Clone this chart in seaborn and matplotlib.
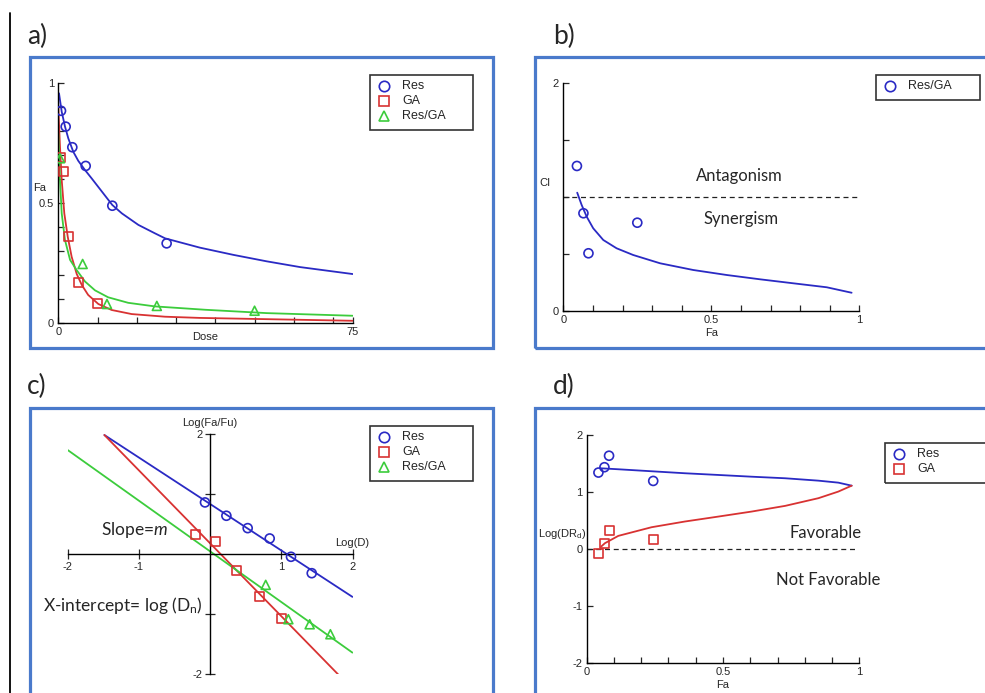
import numpy as np
import seaborn as sns
import matplotlib.pyplot as plt
from matplotlib.lines import Line2D
from matplotlib.patches import Rectangle
from matplotlib.ticker import MultipleLocator

# ---- a) dose-effect curves
res_dose = [0.69, 1.88, 3.57, 6.98, 13.76, 27.6]
res_fa = [0.884, 0.818, 0.732, 0.654, 0.488, 0.331]
ga_dose = [0.65, 1.45, 2.55, 5.1, 10.0]
ga_fa = [0.6875, 0.629, 0.361, 0.167, 0.08]
combo_dose = [0.43, 6.2, 12.4, 25.1, 50.0]
combo_fa = [0.686, 0.245, 0.078, 0.07, 0.05]

res_fit_dose = [0.18, 0.87, 1.71, 2.55, 3.82, 5.1, 6.8, 8.5, 11.06, 13.76, 16.2, 20.4,
                24.6, 27.2, 36.1, 44.6, 53.1, 61.6, 75.0]
res_fit_fa = [0.957, 0.88, 0.818, 0.769, 0.713, 0.675, 0.637, 0.602, 0.548, 0.491, 0.456, 0.408,
              0.373, 0.352, 0.313, 0.283, 0.256, 0.232, 0.203]
ga_fit_dose = [0.0, 0.43, 0.87, 1.53, 2.4, 3.4, 4.7, 6.0, 7.6, 10.2, 13.6, 18.7, 27.2, 36.0, 75.0]
ga_fit_fa = [0.90, 0.734, 0.595, 0.456, 0.359, 0.275, 0.203, 0.157, 0.116, 0.078, 0.053, 0.036,
             0.025, 0.02, 0.008]
combo_fit_dose = [0.0, 0.43, 0.87, 1.7, 3.0, 4.7, 6.8, 9.35, 12.7, 17.8, 24.6, 37.4, 53.1, 75.0]
combo_fit_fa = [0.79, 0.595, 0.456, 0.345, 0.262, 0.219, 0.172, 0.135, 0.106, 0.083, 0.068,
                0.054, 0.040, 0.029]

# ---- b) combination index
ci_fa = [0.046, 0.068, 0.085, 0.25]
ci_val = [1.273, 0.857, 0.505, 0.774]
ci_fit_fa = [0.047, 0.062, 0.079, 0.101, 0.135, 0.18, 0.236, 0.327, 0.439, 0.552, 0.665, 0.777, 0.89, 0.974]
ci_fit = [1.038, 0.93, 0.827, 0.725, 0.622, 0.549, 0.49, 0.417, 0.358, 0.314, 0.276, 0.241, 0.206, 0.158]

# ---- c) median-effect plot
c_res_x = [-0.073, 0.227, 0.526, 0.835, 1.134, 1.425]
c_res_y = [0.861, 0.639, 0.433, 0.261, -0.044, -0.317]
c_ga_x = [-0.208, 0.077, 0.372, 0.686, 0.994]
c_ga_y = [0.322, 0.211, -0.272, -0.706, -1.067]
c_combo_x = [0.779, 1.097, 1.396, 1.687]
c_combo_y = [-0.511, -1.083, -1.167, -1.333]
c_res_line_x = [-1.485, 1.996]
c_res_line_y = [1.983, -0.711]
c_ga_line_x = [-1.485, 1.808]
c_ga_line_y = [1.983, -2.017]
c_combo_line_x = [-2.0, 1.996]
c_combo_line_y = [1.733, -1.639]

# ---- d) dose reduction
d_res_fa = [0.043, 0.065, 0.082, 0.244]
d_res_y = [1.34, 1.434, 1.636, 1.193]
d_ga_fa = [0.045, 0.065, 0.082, 0.246]
d_ga_y = [-0.088, 0.088, 0.316, 0.158]
d_res_fit_fa = [0.049, 0.116, 0.238, 0.36, 0.483, 0.603, 0.728, 0.85, 0.923, 0.972]
d_res_fit = [1.416, 1.398, 1.363, 1.328, 1.298, 1.268, 1.24, 1.198, 1.163, 1.11]
d_ga_fit_fa = [0.053, 0.067, 0.116, 0.238, 0.36, 0.483, 0.605, 0.728, 0.85, 0.923, 0.972]
d_ga_fit = [0.04, 0.1, 0.228, 0.38, 0.48, 0.567, 0.655, 0.755, 0.89, 1.006, 1.11]

BLUE = "#2a2ac4"
RED = "#d83232"
GREEN = "#3ccc3c"
FRAME = "#4a7acb"
W, H = 985, 693

sns.set_style("ticks")
plt.rcParams["font.family"] = ["Liberation Sans", "DejaVu Sans"]
plt.rcParams["axes.unicode_minus"] = False
plt.rcParams["mathtext.fontset"] = "custom"
plt.rcParams["mathtext.rm"] = "Lato"
plt.rcParams["mathtext.it"] = "Lato:italic"

fig = plt.figure(figsize=(W / 100, H / 100), dpi=100)


def px_axes(x0, y0, x1, y1):
    return fig.add_axes([x0 / W, 1 - y1 / H, (x1 - x0) / W, (y1 - y0) / H])


def points(ax, x, y, marker, color, s=42):
    sns.scatterplot(x=x, y=y, marker=marker, s=s, facecolor="none",
                    edgecolor=color, linewidth=1.2, ax=ax, zorder=3)


def curve(ax, x, y, color):
    sns.lineplot(x=x, y=y, color=color, lw=1.3, sort=False, estimator=None, ax=ax)


def key_box(x0, y0, x1, entries):
    y1 = y0 + 10 + 15 * len(entries)
    fig.add_artist(Rectangle((x0 / W, 1 - y1 / H), (x1 - x0) / W, (y1 - y0) / H,
                             transform=fig.transFigure, fill=False, ec="#333333", lw=1.2))
    for i, (label, marker, color) in enumerate(entries):
        yy = 1 - (y0 + 11 + 15 * i) / H
        fig.add_artist(Line2D([(x0 + 14) / W], [yy], marker=marker, ms=7.5, mfc="none",
                              mec=color, mew=1.2, ls="none", transform=fig.transFigure))
        fig.text((x0 + 32) / W, yy, label, fontsize=9, va="center", ha="left")


def frame(x0, y0, x1, y1):
    fig.add_artist(Rectangle((x0 / W, 1 - y1 / H), (x1 - x0) / W, (y1 - y0) / H,
                             transform=fig.transFigure, fill=False, ec=FRAME, lw=2.3,
                             clip_on=False))


def plain_axes(ax):
    sns.despine(ax=ax)
    for sp in ("left", "bottom"):
        ax.spines[sp].set_linewidth(1.0)
        ax.spines[sp].set_color("black")
    ax.tick_params(which="both", direction="in", labelsize=8, pad=3, width=0.9)
    ax.tick_params(which="major", length=4)
    ax.tick_params(which="minor", length=4)
    ax.patch.set_alpha(0)


# frames, side rule, panel letters
frame(30, 57, 493, 348)
frame(535, 57, 995, 348)
frame(30, 408, 493, 710)
frame(535, 408, 995, 710)
fig.add_artist(Line2D([10 / W, 10 / W], [1 - 13 / H, 0], color="black", lw=1.3,
                      transform=fig.transFigure))
for letter, lx, ly in [("a)", 27, 36), ("b)", 553, 36), ("c)", 27, 386), ("d)", 553, 386)]:
    fig.text(lx / W, 1 - ly / H, letter, fontsize=19, family="Lato", va="center", ha="left")

# ---- panel a
ax = px_axes(58.3, 83, 352.7, 322.7)
curve(ax, res_fit_dose, res_fit_fa, BLUE)
curve(ax, ga_fit_dose, ga_fit_fa, RED)
curve(ax, combo_fit_dose, combo_fit_fa, GREEN)
points(ax, res_dose, res_fa, "o", BLUE)
points(ax, ga_dose, ga_fa, "s", RED)
points(ax, combo_dose, combo_fa, "^", GREEN)
ax.set_xlim(0, 75)
ax.set_ylim(0, 1)
plain_axes(ax)
ax.set_xticks([0, 75])
ax.xaxis.set_minor_locator(MultipleLocator(10))
ax.set_yticks([0, 0.5, 1])
ax.set_yticklabels(["0", "0.5", "1"])
ax.yaxis.set_minor_locator(MultipleLocator(0.1))
ax.set_xlabel("Dose", fontsize=8, va="center")
ax.xaxis.set_label_coords(0.498, -0.058)
ax.set_ylabel("Fa", fontsize=8, rotation=0, ha="center", va="center")
ax.yaxis.set_label_coords(-0.062, 0.5625)
key_box(370, 75, 473, [("Res", "o", BLUE), ("GA", "s", RED), ("Res/GA", "^", GREEN)])

# ---- panel b
ax = px_axes(563.3, 83.3, 859.3, 310.7)
ax.axhline(1, color="#222222", lw=0.9, ls=(0, (4, 3)))
curve(ax, ci_fit_fa, ci_fit, BLUE)
points(ax, ci_fa, ci_val, "o", BLUE)
ax.set_xlim(0, 1)
ax.set_ylim(0, 2)
plain_axes(ax)
ax.set_xticks([0, 0.5, 1])
ax.set_xticklabels(["0", "0.5", "1"])
ax.xaxis.set_minor_locator(MultipleLocator(0.1))
ax.set_yticks([0, 2])
ax.yaxis.set_minor_locator(MultipleLocator(0.5))
ax.set_xlabel("Fa", fontsize=8, va="center")
ax.xaxis.set_label_coords(0.5, -0.098)
ax.set_ylabel("CI", fontsize=8, rotation=0, ha="center", va="center")
ax.yaxis.set_label_coords(-0.062, 0.5616)
ax.text(0.595, 1.185, "Antagonism", fontsize=12, family="Lato", ha="center", va="center")
ax.text(0.602, 0.81, "Synergism", fontsize=12, family="Lato", ha="center", va="center")
key_box(876, 75, 980, [("Res/GA", "o", BLUE)])

# ---- panel c
ax = px_axes(67.7, 434, 352.7, 674.3)
curve(ax, c_res_line_x, c_res_line_y, BLUE)
curve(ax, c_ga_line_x, c_ga_line_y, RED)
curve(ax, c_combo_line_x, c_combo_line_y, GREEN)
points(ax, c_res_x, c_res_y, "o", BLUE)
points(ax, c_ga_x, c_ga_y, "s", RED)
points(ax, c_combo_x, c_combo_y, "^", GREEN)
ax.set_xlim(-2, 2)
ax.set_ylim(-2, 2)
for sp in ("top", "right"):
    ax.spines[sp].set_visible(False)
for sp in ("left", "bottom"):
    ax.spines[sp].set_position("zero")
    ax.spines[sp].set_linewidth(1.0)
    ax.spines[sp].set_color("black")
ax.patch.set_alpha(0)
ax.set_xticks([-2, -1, 1, 2])
ax.set_yticks([-2, -1, 1, 2])
ax.set_yticklabels(["-2", "", "", "2"])
ax.tick_params(direction="inout", length=7, width=0.9, labelsize=8, pad=2)
ax.set_xlabel("Log(D)", fontsize=8, va="center")
ax.xaxis.set_label_coords(0.9975, 0.546)
ax.set_ylabel("Log(Fa/Fu)", fontsize=8, rotation=0, ha="center", va="center")
ax.yaxis.set_label_coords(0.4993, 1.046)
ax.text(-1.055, 0.40, "Slope=$m$", fontsize=12.5, family="Lato", ha="center", va="center")
ax.text(-1.22, -0.86, "X-intercept= log (D$_\\mathregular{n}$)", fontsize=12.5,
        family="Lato", ha="center", va="center")
key_box(370, 426, 473, [("Res", "o", BLUE), ("GA", "s", RED), ("Res/GA", "^", GREEN)])

# ---- panel d
ax = px_axes(586.7, 435, 859.3, 662.7)
ax.axhline(0, xmax=0.993, color="#222222", lw=0.9, ls=(0, (4, 3)))
curve(ax, d_res_fit_fa, d_res_fit, BLUE)
curve(ax, d_ga_fit_fa, d_ga_fit, RED)
points(ax, d_res_fa, d_res_y, "o", BLUE)
points(ax, d_ga_fa, d_ga_y, "s", RED)
ax.set_xlim(0, 1)
ax.set_ylim(-2, 2)
plain_axes(ax)
ax.set_xticks([0, 0.5, 1])
ax.set_xticklabels(["0", "0.5", "1"])
ax.xaxis.set_minor_locator(MultipleLocator(0.1))
ax.set_yticks([-2, -1, 0, 1, 2])
ax.set_xlabel("Fa", fontsize=8, va="center")
ax.xaxis.set_label_coords(0.5, -0.098)
ax.set_ylabel("Log(DR$_\\mathregular{d}$)", fontsize=8, rotation=0, ha="center", va="center")
ax.yaxis.set_label_coords(-0.092, 0.565)
ax.text(0.878, 0.275, "Favorable", fontsize=12, family="Lato", ha="center", va="center")
ax.text(0.886, -0.544, "Not Favorable", fontsize=12, family="Lato", ha="center", va="center")
key_box(885, 443, 1000, [("Res", "o", BLUE), ("GA", "s", RED)])

fig.savefig("out.png", dpi=100)
